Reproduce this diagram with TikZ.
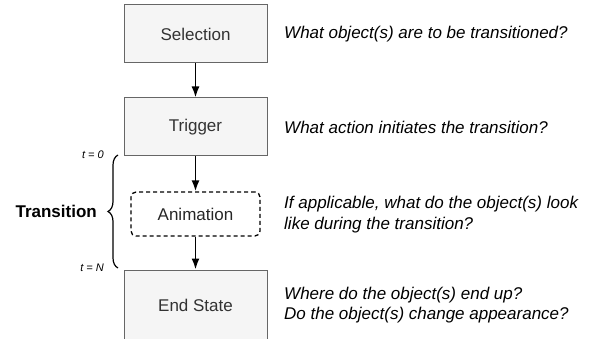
\documentclass[tikz,border=0pt]{standalone}
\usepackage{fontspec}
\setmainfont{Liberation Sans}
\usetikzlibrary{arrows.meta,decorations.pathreplacing}
\definecolor{boxfill}{HTML}{F5F5F5}
\definecolor{boxline}{HTML}{666666}
\definecolor{boxtext}{HTML}{333333}

\begin{document}
\begin{tikzpicture}[x=1pt,y=-1pt,>={Latex[length=11pt,width=8pt]},
        stage/.style={draw=boxline,fill=boxfill,text=boxtext,line width=1pt,
            minimum width=143pt,minimum height=58pt,font=\fontsize{17}{20}\selectfont},
        ask/.style={anchor=west,align=left,inner sep=0pt,font=\fontsize{17}{20.5}\selectfont\itshape},
        tick/.style={anchor=east,inner sep=0pt,font=\fontsize{11}{13}\selectfont\itshape}]
            \clip (0,0) rectangle (591,339);
            \node[stage] (sel) at (195.5,34) {Selection};
            \node[stage] (trig) at (195.5,127) {Trigger};
            \node[stage,minimum height=70pt] (endst) at (195.5,305) {End State};
            \node[draw=black,dash pattern=on 4pt off 3pt,rounded corners=5pt,line width=1.3pt,
                text=black!85,minimum width=129pt,minimum height=44pt,
                font=\fontsize{17}{20}\selectfont] (anim) at (195.5,214) {Animation};
            \draw[->,line width=1.8pt] (sel) -- (trig);
            \draw[->,line width=1.8pt] (trig) -- (anim);
            \draw[->,line width=1.8pt] (anim) -- (endst);
            \node[ask] (qsel) at (284,34) {What object(s) are to be transitioned?};
            \node[ask] (qtrig) at (284,127) {What action initiates the transition?};
            \node[ask] (qanim) at (284,214.5) {If applicable, what do the object(s) look\\like during the transition?};
            \node[ask] (qend) at (284,305) {Where do the object(s) end up?\\Do the object(s) change appearance?};
            % transition brace
            \coordinate (tzero) at (118,155);
            \coordinate (tend) at (118,268);
            \draw[line width=1.2pt,decorate,decoration={brace,amplitude=10pt}] (tend) -- (tzero);
            \node[tick] (lzero) at (104,155) {t = 0};
            \node[tick] (lend) at (104,268) {t = N};
            \node[anchor=east,inner sep=0pt,font=\fontsize{17}{20}\selectfont\bfseries] (trans) at (97,211) {Transition};
        \end{tikzpicture}
\end{document}
